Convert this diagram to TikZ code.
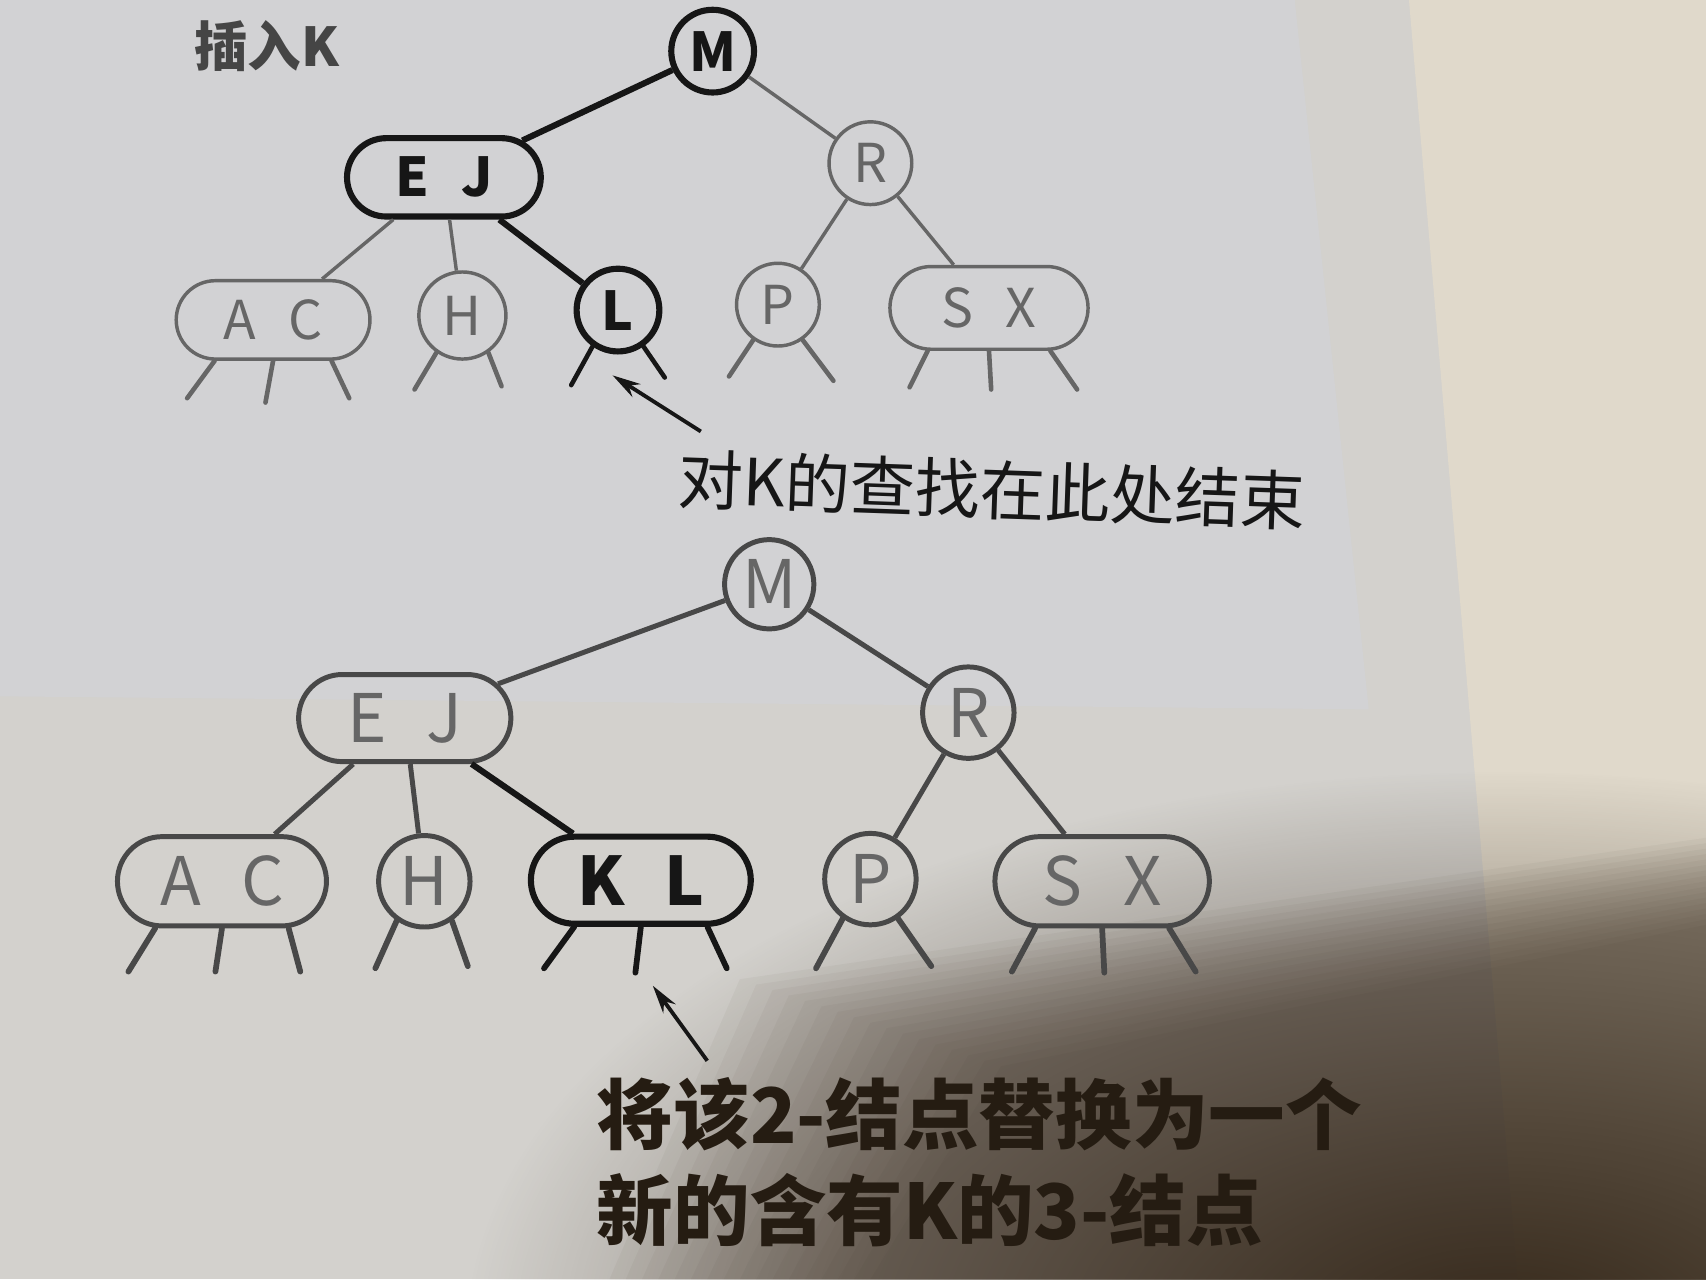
\documentclass[tikz,border=0pt]{standalone}
\usepackage{fontspec}
\setmainfont{Noto Sans CJK SC}
\usetikzlibrary{shapes.misc,arrows.meta,fadings}

\definecolor{paper}{HTML}{D2D2D4}
\definecolor{sheet}{HTML}{D3D1CD}
\definecolor{wall}{HTML}{E0D9CB}
\definecolor{umber}{HTML}{35281A}
\definecolor{ink}{HTML}{161616}
\definecolor{dim}{HTML}{666666}
\definecolor{mid}{HTML}{484848}

\tikzfading[name=dusk, inner color=transparent!0, outer color=transparent!100]

\tikzset{
  two/.style = {circle, draw, inner sep=0pt},
  three/.style = {rounded rectangle, draw, inner sep=0pt},
  faded/.style = {draw=dim, text=dim, line width=0.9pt},
  plain/.style = {draw=mid, text=dim, line width=1.3pt},
  hot/.style = {draw=ink, text=ink, line width=1.6pt, execute at begin node=\bfseries},
  nul/.style = {line width=1.2pt, line cap=round},
  pointer/.style = {draw=ink, line width=1pt, -{Stealth[length=0.26cm, width=0.14cm]}}
}

\begin{document}
\begin{tikzpicture}[x=0.01cm, y=-0.01cm]
\useasboundingbox (0,0) rectangle (1568,1176);

% page, book edge and shadow
\begin{scope}
  \clip (0,0) rectangle (1568,1176);
  \fill[sheet] (0,0) rectangle (1568,1176);
  \fill[paper] (0,0) -- (1190,0) -- (1258,652) -- (0,640) -- cycle;
  \fill[wall] (1295,0) -- (1568,0) -- (1568,1176) -- (1395,1176) -- cycle;
  \foreach \s in {0,15,...,240}
    \fill[umber, opacity=0.04] (560+\s,1176) -- (680+\s,900+\s/3) -- (1568,770+\s/3) -- (1568,1176) -- cycle;
  \fill[umber, path fading=dusk] (1380,1230) ellipse [x radius=9.5cm, y radius=5.2cm];
\end{scope}

% before inserting K
\begin{scope}[font=\fontsize{14}{14}\selectfont,
  every node/.append style={minimum size=0.76cm}]
  \node[text=ink!80, inner sep=0pt, anchor=west, font=\bfseries\fontsize{14}{14}\selectfont] (title) at (178,42) {插入K};
  \node[two, hot] (m1) at (655,47) {M};
  \node[three, hot, minimum width=1.78cm, minimum height=0.72cm] (ej1) at (408,163) {E\hspace{0.6em}J};
  \node[two, faded] (r1) at (800,150) {R};
  \node[three, faded, minimum width=1.78cm, minimum height=0.72cm] (ac1) at (251,294) {A\hspace{0.6em}C};
  \node[two, faded, minimum size=0.8cm] (h1) at (425,290) {H};
  \node[two, hot] (l1) at (568,285) {L};
  \node[two, faded] (p1) at (715,280) {P};
  \node[three, faded, minimum width=1.82cm, minimum height=0.76cm] (sx1) at (909,283) {S\hspace{0.6em}X};
\end{scope}

\draw[hot] (m1) -- (ej1);
\draw[faded] (m1) -- (r1);
\draw[faded] (ej1) -- (ac1);
\draw[faded] (ej1) -- (h1);
\draw[hot] (ej1) -- (l1);
\draw[faded] (r1) -- (p1);
\draw[faded] (r1) -- (sx1);

\foreach \n/\a/\x/\y/\c in {ac1/215/172/366/dim, ac1/270/244/370/dim, ac1/325/321/366/dim,
    h1/235/381/358/dim, h1/305/461/355/dim, l1/235/525/354/ink, l1/305/611/347/ink,
    p1/235/670/346/dim, p1/305/766/350/dim,
    sx1/215/836/356/dim, sx1/270/911/358/dim, sx1/325/990/358/dim} {
  \coordinate (\n-\a) at (\x,\y);
  \draw[nul, \c] (\n.\a) -- (\n-\a);
}

\node[font=\fontsize{17}{17}\selectfont, text=ink, rotate=-2, inner sep=0pt] (find) at (912,450) {对K的查找在此处结束};
\coordinate (stop1) at (563,345);
\draw[pointer] ([xshift=0.2cm, yshift=0.15cm]find.north west) -- (stop1);

% after inserting K
\begin{scope}[font=\fontsize{17.5}{17.5}\selectfont,
  every node/.append style={minimum size=0.82cm}]
  \node[two, plain] (m2) at (707,537) {M};
  \node[three, plain, minimum width=1.95cm, minimum height=0.8cm] (ej2) at (372,660) {E\hspace{0.6em}J};
  \node[two, plain, minimum size=0.84cm] (r2) at (890,655) {R};
  \node[three, plain, minimum width=1.92cm, minimum height=0.82cm] (ac2) at (204,810) {A\hspace{0.6em}C};
  \node[two, plain, minimum size=0.84cm] (h2) at (390,810) {H};
  \node[three, hot, minimum width=2.02cm, minimum height=0.8cm] (kl2) at (589,809) {K\hspace{0.6em}L};
  \node[two, plain, minimum size=0.84cm] (p2) at (800,808) {P};
  \node[three, plain, minimum width=1.97cm, minimum height=0.82cm] (sx2) at (1013,810) {S\hspace{0.6em}X};
\end{scope}

\draw[plain] (m2) -- (ej2);
\draw[plain] (m2) -- (r2);
\draw[plain] (ej2) -- (ac2);
\draw[plain] (ej2) -- (h2);
\draw[hot] (ej2) -- (kl2);
\draw[plain] (r2) -- (p2);
\draw[plain] (r2) -- (sx2);

\foreach \n/\a/\x/\y/\c in {ac2/215/118/893/mid, ac2/270/198/893/mid, ac2/325/276/893/mid,
    h2/235/345/890/mid, h2/305/430/888/mid,
    kl2/215/500/890/ink, kl2/270/584/894/ink, kl2/325/668/890/ink,
    p2/235/750/890/mid, p2/305/856/888/mid,
    sx2/215/930/893/mid, sx2/270/1015/894/mid, sx2/325/1099/893/mid} {
  \coordinate (\n-\a) at (\x,\y);
  \draw[nul, line width=1.5pt, \c] (\n.\a) -- (\n-\a);
}

\node[font=\bfseries\fontsize{20}{25}\selectfont, text=umber!70!black, align=left, anchor=north west, inner sep=0pt] (swap) at (548,990) {将该2-结点替换为一个\\新的含有K的3-结点};
\coordinate (stop2) at (600,906);
\draw[pointer] ([xshift=1.02cm, yshift=0.15cm]swap.north west) -- (stop2);
\end{tikzpicture}
\end{document}
